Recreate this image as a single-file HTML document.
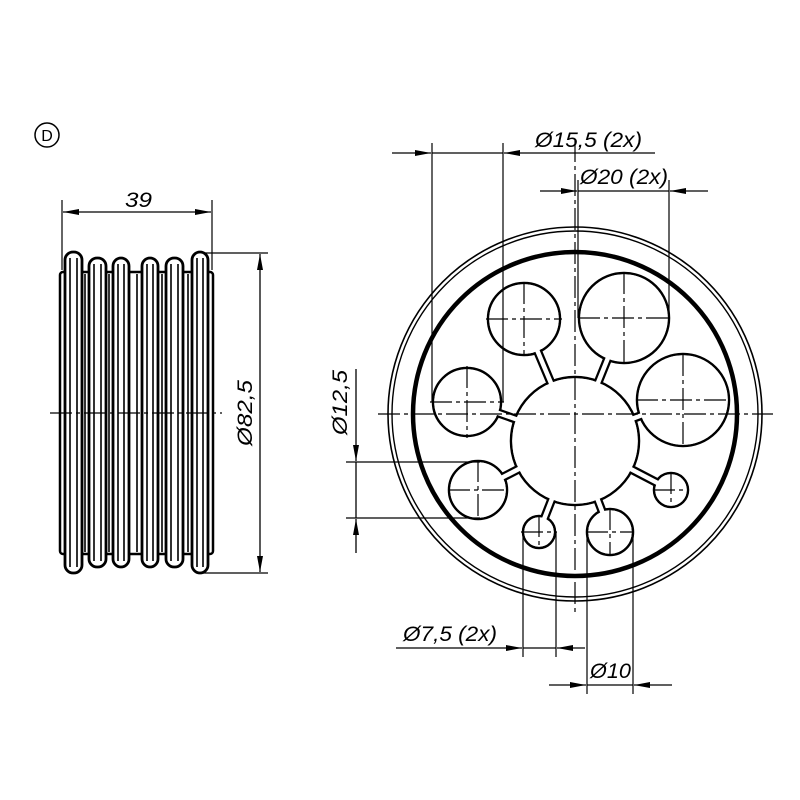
<!DOCTYPE html>
<html><head><meta charset="utf-8"><style>
html,body{margin:0;padding:0;background:#fff;}
svg{display:block;}
text{font-family:"Liberation Sans",sans-serif;font-style:italic;font-size:21px;fill:#000;}
</style></head><body>
<svg width="800" height="800" viewBox="0 0 800 800" xmlns="http://www.w3.org/2000/svg">
<defs>
<marker id="a" viewBox="0 0 16 6" refX="16" refY="3" markerWidth="16" markerHeight="6" markerUnits="userSpaceOnUse" orient="auto"><path d="M0,0L16,3L0,6z" fill="#000"/></marker>
</defs>
<circle cx="47" cy="135" r="12" fill="none" stroke="#000" stroke-width="1.5"/>
<text x="47" y="141" text-anchor="middle" style="font-style:normal;font-size:16px">D</text>

<g stroke="#000" fill="none">
<path d="M62,200V270M212,200V270" stroke-width="1.2"/>
<path d="M200,253H268M200,573H268" stroke-width="1.2"/>
<rect x="60" y="272" width="153" height="282" rx="3" stroke-width="2.5" fill="#fff"/>
<g stroke-width="2.8" fill="#fff">
<rect x="65" y="252" width="17" height="321" rx="8"/>
<rect x="89" y="258" width="17" height="309" rx="8"/>
<rect x="113" y="258" width="16" height="309" rx="8"/>
<rect x="142" y="258" width="16" height="309" rx="8"/>
<rect x="166" y="258" width="17" height="309" rx="8"/>
<rect x="192" y="252" width="16" height="321" rx="8"/>
</g>
<g stroke-width="1.6">
<path d="M70,258V567M77,258V567M94,264V561M101,264V561M118,264V561M124,264V561M147,264V561M153,264V561M171,264V561M178,264V561M197,258V567M203,258V567"/>
<path d="M85,274V552M109,274V552M137,274V552M162,274V552M188,274V552"/>
</g>
<path d="M50,413H222" stroke-width="1.2" stroke-dasharray="22,4,4,4"/>
<line x1="137" y1="212" x2="63" y2="212" stroke-width="1.3" marker-end="url(#a)"/>
<line x1="137" y1="212" x2="211" y2="212" stroke-width="1.3" marker-end="url(#a)"/>
<line x1="260" y1="413" x2="260" y2="254" stroke-width="1.3" marker-end="url(#a)"/>
<line x1="260" y1="413" x2="260" y2="572" stroke-width="1.3" marker-end="url(#a)"/>
</g>
<text x="125" y="207" textLength="27" lengthAdjust="spacingAndGlyphs">39</text>
<text transform="translate(252,446) rotate(-90)" textLength="66" lengthAdjust="spacingAndGlyphs">Ø82,5</text>

<g stroke="#000" fill="none">
<circle cx="575" cy="414" r="187" stroke-width="1.6"/>
<circle cx="575" cy="414" r="183" stroke-width="1.4"/>
<circle cx="575" cy="414" r="162" stroke-width="4.5"/>
<g stroke-width="9" stroke-linecap="butt">
<path d="M575,440L524,319M575,440L624,318M575,440L683,400M575,440L467,402M575,440L478,490M575,440L539,532M575,440L610,532M575,440L671,490"/>
</g>
<g stroke-width="2.5">
<circle cx="575" cy="441" r="64"/>
<circle cx="524" cy="319" r="36"/>
<circle cx="624" cy="318" r="45"/>
<circle cx="683" cy="400" r="46"/>
<circle cx="467" cy="402" r="34"/>
<circle cx="478" cy="490" r="29"/>
<circle cx="539" cy="532" r="16"/>
<circle cx="610" cy="532" r="23"/>
<circle cx="671" cy="490" r="17"/>
</g>
<g stroke="#fff" stroke-width="4.5">
<path d="M575,440L524,319M575,440L624,318M575,440L683,400M575,440L467,402M575,440L478,490M575,440L539,532M575,440L610,532M575,440L671,490"/>
</g>
<g fill="#fff" stroke="none">
<circle cx="575" cy="441" r="62.8"/>
<circle cx="524" cy="319" r="34.8"/>
<circle cx="624" cy="318" r="43.8"/>
<circle cx="683" cy="400" r="44.8"/>
<circle cx="467" cy="402" r="32.8"/>
<circle cx="478" cy="490" r="27.8"/>
<circle cx="539" cy="532" r="14.8"/>
<circle cx="610" cy="532" r="21.8"/>
<circle cx="671" cy="490" r="15.8"/>
</g>
<g stroke-width="1.2" stroke-dasharray="22,4,4,4">
<path d="M378,414H773"/>
<path d="M575,140V612"/>
<path d="M486,319H562M524,282V356"/>
<path d="M578,318H670M624,272V364"/>
<path d="M636,400H730M683,354V446"/>
<path d="M430,402H504M467,366V438"/>
<path d="M448,490H508M478,460V520"/>
<path d="M521,532H557M539,515V549"/>
<path d="M586,532H634M610,508V556"/>
<path d="M653,490H689M671,472V508"/>
</g>
<g stroke-width="1.2">
<path d="M432,143V402M503,143V402"/>
<path d="M578,180V318M669,180V318"/>
<path d="M346,462H480M346,518H480"/>
<path d="M523,532V657M556,532V657"/>
<path d="M587,532V694M633,532V694"/>
</g>
<g stroke-width="1.3">
<line x1="392" y1="153" x2="431" y2="153" marker-end="url(#a)"/>
<line x1="432" y1="153" x2="503" y2="153"/>
<line x1="655" y1="153" x2="504" y2="153" marker-end="url(#a)"/>
<line x1="540" y1="191" x2="577" y2="191" marker-end="url(#a)"/>
<line x1="578" y1="191" x2="669" y2="191"/>
<line x1="708" y1="191" x2="670" y2="191" marker-end="url(#a)"/>
<line x1="356" y1="369" x2="356" y2="461" marker-end="url(#a)"/>
<line x1="356" y1="462" x2="356" y2="518"/>
<line x1="356" y1="553" x2="356" y2="519" marker-end="url(#a)"/>
<line x1="396" y1="648" x2="522" y2="648" marker-end="url(#a)"/>
<line x1="523" y1="648" x2="556" y2="648"/>
<line x1="585" y1="648" x2="557" y2="648" marker-end="url(#a)"/>
<line x1="549" y1="685" x2="586" y2="685" marker-end="url(#a)"/>
<line x1="587" y1="685" x2="633" y2="685"/>
<line x1="672" y1="685" x2="634" y2="685" marker-end="url(#a)"/>
</g>
</g>
<text x="535" y="147" textLength="107" lengthAdjust="spacingAndGlyphs">Ø15,5 (2x)</text>
<text x="580" y="184" textLength="88" lengthAdjust="spacingAndGlyphs">Ø20 (2x)</text>
<text transform="translate(347,435) rotate(-90)" textLength="65" lengthAdjust="spacingAndGlyphs">Ø12,5</text>
<text x="403" y="641" textLength="94" lengthAdjust="spacingAndGlyphs">Ø7,5 (2x)</text>
<text x="590" y="678" textLength="41" lengthAdjust="spacingAndGlyphs">Ø10</text>
</svg>
</body></html>
